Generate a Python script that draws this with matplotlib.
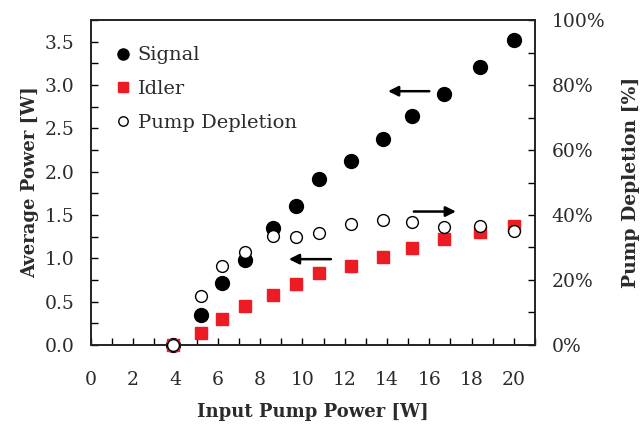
import matplotlib
matplotlib.use('Agg')
import matplotlib.pyplot as plt
from matplotlib.ticker import MultipleLocator, PercentFormatter, FormatStrFormatter

plt.rcParams['font.family'] = ['DejaVu Serif']
plt.rcParams['font.size'] = 13.5

# Input pump power [W]
pump_in = [3.9, 5.2, 6.2, 7.3, 8.6, 9.7, 10.8, 12.3, 13.8, 15.2, 16.7, 18.4, 20.0]
# Average output power [W]
signal = [0.0, 0.35, 0.72, 0.98, 1.35, 1.60, 1.92, 2.12, 2.38, 2.64, 2.90, 3.21, 3.52]
idler = [0.0, 0.14, 0.30, 0.45, 0.58, 0.70, 0.83, 0.91, 1.01, 1.12, 1.22, 1.30, 1.37]
# Pump depletion [fraction]
depletion = [0.0, 0.151, 0.243, 0.287, 0.335, 0.331, 0.346, 0.372, 0.385, 0.377, 0.364, 0.367, 0.351]

red = '#ED1C24'
txt = '#2b2b2b'

fig = plt.figure(figsize=(6.4, 4.3), dpi=100)
ax = fig.add_axes([0.142, 0.198, 0.694, 0.755])
ax2 = ax.twinx()

hs, = ax.plot(pump_in, signal, 'o', color='black', markersize=10,
              linestyle='none', clip_on=False, zorder=3, label='Signal')
hi, = ax.plot(pump_in, idler, 's', color=red, markersize=8.5,
              linestyle='none', clip_on=False, zorder=3, label='Idler')
hd, = ax2.plot(pump_in, depletion, 'o', markerfacecolor='white',
               markeredgecolor='black', markeredgewidth=1.0, markersize=8.5,
               linestyle='none', clip_on=False, zorder=4, label='Pump Depletion')

ax.set_xlim(0, 21)
ax.set_ylim(0, 3.75)
ax2.set_ylim(0, 1.0)

ax.xaxis.set_major_locator(MultipleLocator(2))
ax.xaxis.set_minor_locator(MultipleLocator(1))
ax.yaxis.set_major_locator(MultipleLocator(0.5))
ax.yaxis.set_minor_locator(MultipleLocator(0.25))
ax.yaxis.set_major_formatter(FormatStrFormatter('%.1f'))
ax2.yaxis.set_major_locator(MultipleLocator(0.2))
ax2.yaxis.set_minor_locator(MultipleLocator(0.1))
ax2.yaxis.set_major_formatter(PercentFormatter(1.0, decimals=0))

ax.tick_params(axis='x', which='both', direction='in', length=5, width=1,
               pad=19, labelcolor=txt)
ax.tick_params(axis='y', which='both', direction='in', length=5, width=1,
               pad=12, labelcolor=txt)
ax2.tick_params(axis='y', which='both', direction='in', length=5, width=1,
                pad=12, labelcolor=txt)
for a in (ax, ax2):
    for s in a.spines.values():
        s.set_linewidth(1.2)
        s.set_color('#222222')

ax.set_xlabel('Input Pump Power [W]', fontweight='bold', fontsize=13,
              labelpad=10, color=txt)
ax.set_ylabel('Average Power [W]', fontweight='bold', fontsize=13,
              labelpad=4, color=txt)
ax2.set_ylabel('Pump Depletion [%]', fontweight='bold', fontsize=13.5,
               labelpad=12, color=txt)

# direction arrows pointing at the relevant axis
arrow = dict(arrowstyle='-|>', color='black', lw=1.8, mutation_scale=15,
             shrinkA=0, shrinkB=0)
ax.annotate('', xy=(14.05, 2.93), xytext=(16.0, 2.93), arrowprops=arrow)
ax.annotate('', xy=(9.36, 0.99), xytext=(11.35, 0.99), arrowprops=arrow)
ax.annotate('', xy=(17.26, 1.54), xytext=(15.27, 1.54), arrowprops=arrow)

leg = ax.legend(handles=[hs, hi, hd], loc='upper left', frameon=False,
                handlelength=0.6, handletextpad=0.45, labelspacing=0.8,
                borderaxespad=0.95, fontsize=14, markerscale=0.8,
                labelcolor=txt)
leg.set_zorder(10)

fig.savefig('out.png', dpi=100)
